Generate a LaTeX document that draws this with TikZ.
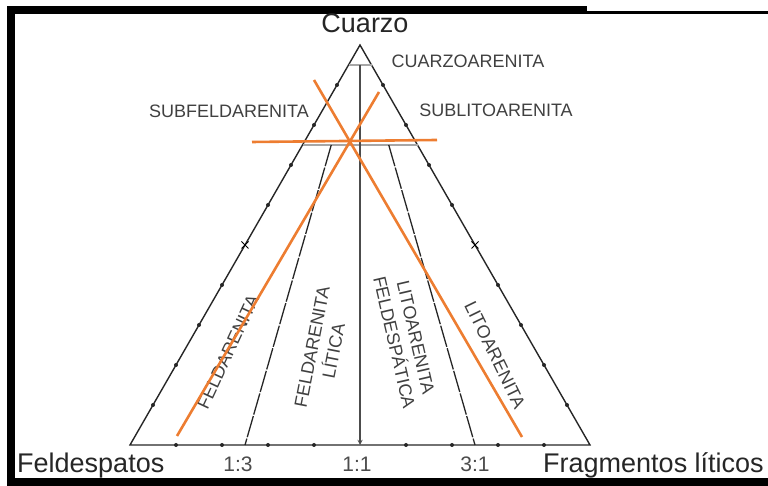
\documentclass[tikz,border=0pt]{standalone}
\usepackage{fontspec}
\setmainfont{Liberation Sans}
\usetikzlibrary{calc}
\definecolor{markorange}{RGB}{237,125,49}

\begin{document}
\begin{tikzpicture}[>=stealth, x=1pt, y=1pt]

  % Styles
  \tikzset{
    side line/.style={line width=1.4pt, draw=black!85},
    ratio line/.style={line width=1.3pt, draw=black!85, dash pattern=on 22pt off 1.5pt},
    limit line/.style={line width=2.4pt, draw=black!35},
    mark line/.style={line width=2.6pt, draw=markorange},
    vertex label/.style={font=\fontsize{27}{32}\selectfont, text=black!85, inner sep=0pt},
    ratio label/.style={font=\fontsize{21}{25}\selectfont, text=black!70, inner sep=0pt},
    field label/.style={font=\fontsize{18}{22}\selectfont, text=black!75, inner sep=0pt, align=center}
  }

  \useasboundingbox (0,0) rectangle (768,486);

  % --- FRAME ---
  \fill[black] (7,472) rectangle (587,480);
  \fill[black] (587,472) rectangle (768,474.5);
  \fill[black] (7,0) rectangle (15,480);
  \fill[black] (7,0) rectangle (768,8);

  % --- TRIANGLE ---
  \coordinate (Q) at (360,441);
  \coordinate (F) at (130,41);
  \coordinate (L) at (590,41);
  \draw[side line] (F) -- (Q) -- (L) -- cycle;

  % Quartz limits (95% and 75%)
  \coordinate (q95l) at ($(F)!0.95!(Q)$);
  \coordinate (q95r) at ($(L)!0.95!(Q)$);
  \coordinate (q75l) at ($(F)!0.75!(Q)$);
  \coordinate (q75r) at ($(L)!0.75!(Q)$);
  \draw[limit line] (q95l) -- (q95r);
  \draw[limit line] (q75l) -- (q75r);

  % Ratio lines F:L
  \coordinate (b13) at ($(F)!0.25!(L)$);
  \coordinate (b11) at ($(F)!0.5!(L)$);
  \coordinate (b31) at ($(F)!0.75!(L)$);
  \draw[ratio line] ($(q75l)!0.25!(q75r)$) -- (b13);
  \draw[ratio line] ($(q75l)!0.75!(q75r)$) -- (b31);
  \draw[line width=1.3pt, draw=black!70, ->] ($(q95l)!0.5!(q95r)$) -- (b11);

  % Ticks every 10%
  \foreach \t in {0.1,0.2,0.3,0.4,0.6,0.7,0.8,0.9} {
    \fill[black!85] ($(F)!\t!(Q)$) circle (2);
    \fill[black!85] ($(L)!\t!(Q)$) circle (2);
    \fill[black!85] ($(F)!\t!(L)$) circle (2);
  }
  \foreach \s in {F,L} {
    \draw[line width=1pt] ($(\s)!0.5!(Q)$) +(-3.5,-3.5) -- +(3.5,3.5) +(-3.5,3.5) -- +(3.5,-3.5);
  }

  % --- VERTEX AND RATIO LABELS ---
  \node[vertex label, anchor=base] (cuarzo) at (365,453) {Cuarzo};
  \node[vertex label, anchor=base west] (feld) at (17,13) {Feldespatos};
  \node[vertex label, anchor=base west] (frag) at (543,13) {Fragmentos líticos};
  \node[ratio label, anchor=base] (r13) at (238,14) {1:3};
  \node[ratio label, anchor=base] (r11) at (357,14) {1:1};
  \node[ratio label, anchor=base] (r31) at (475,14) {3:1};

  % --- FIELD LABELS ---
  \node[field label] (qa) at (468,425) {CUARZOARENITA};
  \node[field label] (sfa) at (229,375) {SUBFELDARENITA};
  \node[field label] (sla) at (496,376) {SUBLITOARENITA};
  \node[field label, rotate=65] (fa) at (228,134) {FELDARENITA};
  \node[field label, rotate=79] (fal) at (323,137) {FELDARENITA\\LÍTICA};
  \node[field label, rotate=-77] (laf) at (405,146) {LITOARENITA\\FELDESPÁTICA};
  \node[field label, rotate=-64] (la) at (495,131) {LITOARENITA};

  % --- ORANGE MARKS ---
  \coordinate (h1) at (252,344);
  \coordinate (h2) at (437,346);
  \coordinate (a1) at (314,406);
  \coordinate (a2) at (522,49);
  \coordinate (c1) at (379,394);
  \coordinate (c2) at (177,50);
  \draw[mark line] (h1) -- (h2);
  \draw[mark line] (a1) -- (a2);
  \draw[mark line] (c1) -- (c2);

\end{tikzpicture}
\end{document}
